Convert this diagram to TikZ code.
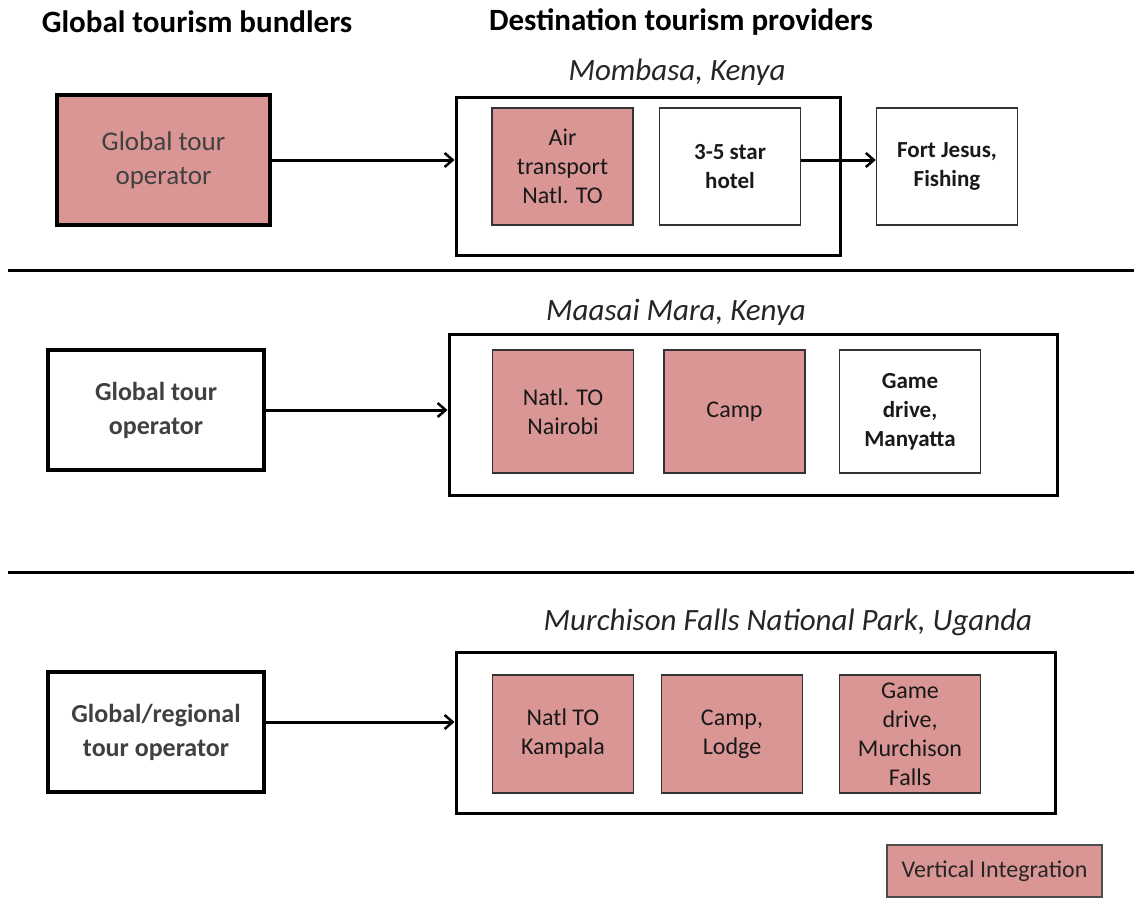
\documentclass[tikz,border=0pt]{standalone}
\usepackage{fontspec}
\setmainfont{Carlito}
\usetikzlibrary{arrows.meta}
\definecolor{vipink}{HTML}{D99694}
\tikzset{
  opbox/.style={draw=black, line width=3.5pt, minimum width=213pt, minimum height=125pt, align=center, font=\fontsize{27}{34}\selectfont, text=black!75},
  cont/.style={draw=black, line width=3pt},
  unit/.style={draw=black!80, line width=1.6pt, minimum width=141pt, minimum height=117pt, align=center, font=\fontsize{24}{29}\selectfont, text=black!90},
  vi/.style={fill=vipink},
  boldtext/.style={font=\bfseries\fontsize{23}{29}\selectfont},
  flow/.style={line width=3pt, -{Straight Barb[length=8pt,width=14pt,line width=2.5pt]}},
  sep/.style={line width=3pt},
  head/.style={font=\bfseries\fontsize{31}{36}\selectfont},
  place/.style={font=\itshape\fontsize{31}{36}\selectfont, text=black!85}
}
\begin{document}
\begin{tikzpicture}[x=1pt,y=-1pt]
\useasboundingbox (0,0) rectangle (1134,897);
% headings
\node[head] (h1) at (197,22) {Global tourism bundlers};
\node[head] (h2) at (681,22) {Destination tourism providers};
% row 1
\node[place] (p1) at (677,72) {Mombasa, Kenya};
\node[opbox, vi, minimum width=213pt, minimum height=130pt] (g1) at (163.5,160) {Global tour\\operator};
\node[cont, minimum width=384pt, minimum height=158pt] (c1) at (648,176) {};
\node[unit, vi] (a1) at (562.5,166.5) {Air\\transport\\Natl. TO};
\node[unit, boldtext] (b1) at (730,166.5) {3-5 star\\hotel};
\node[unit, boldtext] (f1) at (947,166.5) {Fort Jesus,\\Fishing};
\draw[flow] (g1.east) -- (c1.west |- g1.east);
\draw[flow] (b1.east |- 0,160) -- (f1.west |- 0,160);
\draw[sep] (8,270) coordinate (s1a) -- (1134,270) coordinate (s1b);
% row 2
\node[place] (p2) at (676,312) {Maasai Mara, Kenya};
\node[opbox, minimum width=216pt, minimum height=120pt, font=\bfseries\fontsize{26}{34}\selectfont] (g2) at (156,410) {Global tour\\operator};
\node[cont, minimum width=608pt, minimum height=161pt] (c2) at (753,414.5) {};
\node[unit, vi, minimum height=123pt] (a2) at (563,411.5) {Natl. TO\\Nairobi};
\node[unit, vi, minimum height=123pt] (b2) at (734.5,411.5) {Camp};
\node[unit, minimum height=123pt, boldtext] (d2) at (910,411.5) {Game\\drive,\\Manyatta};
\draw[flow] (g2.east) -- (c2.west |- g2.east);
\draw[sep] (8,572) coordinate (s2a) -- (1134,572) coordinate (s2b);
% row 3
\node[place] (p3) at (788,622) {Murchison Falls National Park, Uganda};
\node[opbox, minimum width=216pt, minimum height=120pt, font=\bfseries\fontsize{26}{34}\selectfont] (g3) at (156,732) {Global/regional\\tour operator};
\node[cont, minimum width=599pt, minimum height=161pt] (c3) at (755.5,732.5) {};
\node[unit, vi, minimum height=118pt] (a3) at (563,734) {Natl TO\\Kampala};
\node[unit, vi, minimum height=118pt] (b3) at (732,734) {Camp,\\Lodge};
\node[unit, vi, minimum height=118pt] (d3) at (910,734) {Game\\drive,\\Murchison\\Falls};
\draw[flow] (g3.east |- 0,722) -- (c3.west |- 0,722);
% legend
\node[draw=black!70, line width=1.5pt, vi, minimum width=215pt, minimum height=52pt, font=\fontsize{24}{28}\selectfont, text=black!85] (leg) at (994.5,871) {Vertical Integration};
\end{tikzpicture}
\end{document}
